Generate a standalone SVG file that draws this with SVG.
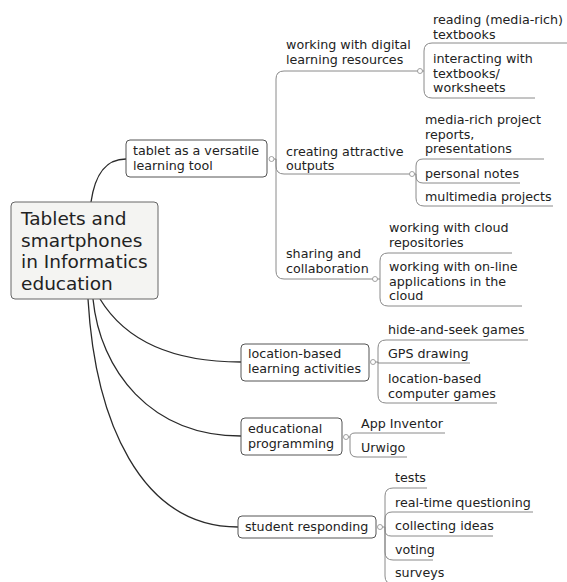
<svg xmlns="http://www.w3.org/2000/svg" width="567" height="582" viewBox="0 0 567 582">
<style>
text{font-family:"DejaVu Sans","Verdana",sans-serif;font-size:12.7px;fill:#222}
.root text{font-size:18.5px}
.box{fill:#fff;stroke:#555;stroke-width:1}
.rootbox{fill:#f4f4f2;stroke:#666;stroke-width:1}
.main{fill:none;stroke:#2a2a2a;stroke-width:1.3}
.br{fill:none;stroke:#8a8a8a;stroke-width:1}
.dot{fill:#fff;stroke:#8a8a8a;stroke-width:0.8}
</style>
<rect width="567" height="582" fill="#fff"/>
<g id="connectors">
<path class="main" d="M91 202 C95 175 105 159 126 159"/>
<path class="main" d="M100 299 C125 340 170 362 241 362"/>
<path class="main" d="M93 299 C100 370 150 436 241 436"/>
<path class="main" d="M88 299 C95 420 140 527 238 527"/>
<!-- tablet bracket -->
<path class="br" d="M274 159 H276 V79 Q276 71 284 71 H418"/>
<path class="br" d="M276 159 V166 Q276 174 284 174 H410"/>
<path class="br" d="M276 159 V271 Q276 279 284 279 H373"/>
<!-- working bracket -->
<path class="br" d="M422 71 H424 V51 Q424 43 432 43 H567"/>
<path class="br" d="M424 71 V90 Q424 98 432 98 H535"/>
<!-- creating bracket -->
<path class="br" d="M414 174 H416 V166 Q416 159 423 159 H544"/>
<path class="br" d="M416 174 V176 Q416 183 423 183 H520"/>
<path class="br" d="M416 174 V198 Q416 206 424 206 H553"/>
<!-- sharing bracket -->
<path class="br" d="M377 279 H380 V261 Q380 253 388 253 H512"/>
<path class="br" d="M380 279 V298 Q380 306 388 306 H522"/>
<!-- location bracket -->
<path class="br" d="M375 362 H378 V348 Q378 340 386 340 H528"/>
<path class="br" d="M378 362 V363 H470"/>
<path class="br" d="M378 362 V395 Q378 403 386 403 H497"/>
<!-- educational bracket -->
<path class="br" d="M348 437 H350 Q350 433 355 433 H445"/>
<path class="br" d="M350 437 V450 Q350 457 357 457 H407"/>
<!-- student bracket -->
<path class="br" d="M382 527 H385 V496 Q385 488 393 488 H427"/>
<path class="br" d="M385 527 V519 Q385 512 392 512 H533"/>
<path class="br" d="M385 527 V530 Q385 536 391 536 H493"/>
<path class="br" d="M385 527 V552 Q385 560 393 560 H433"/>
<path class="br" d="M385 527 V576 Q385 584 393 584 H470"/>
</g>
<g id="root" class="root">
<rect class="rootbox" x="11" y="202" width="147" height="97" rx="4"/>
<text x="21" y="225">Tablets and</text>
<text x="21" y="246.5">smartphones</text>
<text x="21" y="268">in Informatics</text>
<text x="21" y="289.5">education</text>
</g>
<g id="tablet">
<rect class="box" x="126" y="140" width="141" height="37" rx="4"/>
<text x="133" y="155">tablet as a versatile</text>
<text x="133" y="170">learning tool</text>
<circle class="dot" cx="271.5" cy="159" r="2.5"/>
</g>
<g id="working">
<text x="286" y="49">working with digital</text>
<text x="286" y="64">learning resources</text>
<circle class="dot" cx="420" cy="71" r="2.5"/>
</g>
<g id="reading"><text x="433" y="24">reading (media-rich)</text><text x="433" y="38.5">textbooks</text></g>
<g id="interacting"><text x="433" y="63">interacting with</text><text x="433" y="77.5">textbooks/</text><text x="433" y="92">worksheets</text></g>
<g id="creating">
<text x="286" y="156">creating attractive</text>
<text x="286" y="170">outputs</text>
<circle class="dot" cx="412" cy="174" r="2.5"/>
</g>
<g id="mediarich"><text x="425" y="124">media-rich project</text><text x="425" y="138.5">reports,</text><text x="425" y="153">presentations</text></g>
<g id="notes"><text x="425" y="178">personal notes</text></g>
<g id="multimedia"><text x="425" y="201">multimedia projects</text></g>
<g id="sharing">
<text x="286" y="258">sharing and</text>
<text x="286" y="273">collaboration</text>
<circle class="dot" cx="375" cy="279" r="2.5"/>
</g>
<g id="cloudrepo"><text x="389" y="232">working with cloud</text><text x="389" y="246.5">repositories</text></g>
<g id="online"><text x="389" y="271">working with on-line</text><text x="389" y="285.5">applications in the</text><text x="389" y="300">cloud</text></g>
<g id="location">
<rect class="box" x="241" y="344" width="128" height="37" rx="4"/>
<text x="248" y="358">location-based</text>
<text x="248" y="373">learning activities</text>
<circle class="dot" cx="373" cy="362" r="2.5"/>
</g>
<g id="hide"><text x="388" y="334">hide-and-seek games</text></g>
<g id="gps"><text x="388" y="358">GPS drawing</text></g>
<g id="locgames"><text x="388" y="383">location-based</text><text x="388" y="397.5">computer games</text></g>
<g id="educational">
<rect class="box" x="241" y="418" width="101" height="37" rx="4"/>
<text x="248" y="433">educational</text>
<text x="248" y="448">programming</text>
<circle class="dot" cx="346" cy="437" r="2.5"/>
</g>
<g id="appinventor"><text x="361" y="428">App Inventor</text></g>
<g id="urwigo"><text x="361" y="452">Urwigo</text></g>
<g id="student">
<rect class="box" x="238" y="516" width="138" height="22" rx="4"/>
<text x="245" y="531">student responding</text>
<circle class="dot" cx="380" cy="527" r="2.5"/>
</g>
<g id="tests"><text x="395" y="482">tests</text></g>
<g id="realtime"><text x="395" y="507">real-time questioning</text></g>
<g id="ideas"><text x="395" y="530">collecting ideas</text></g>
<g id="voting"><text x="395" y="554">voting</text></g>
<g id="surveys"><text x="395" y="577">surveys</text></g>
</svg>
